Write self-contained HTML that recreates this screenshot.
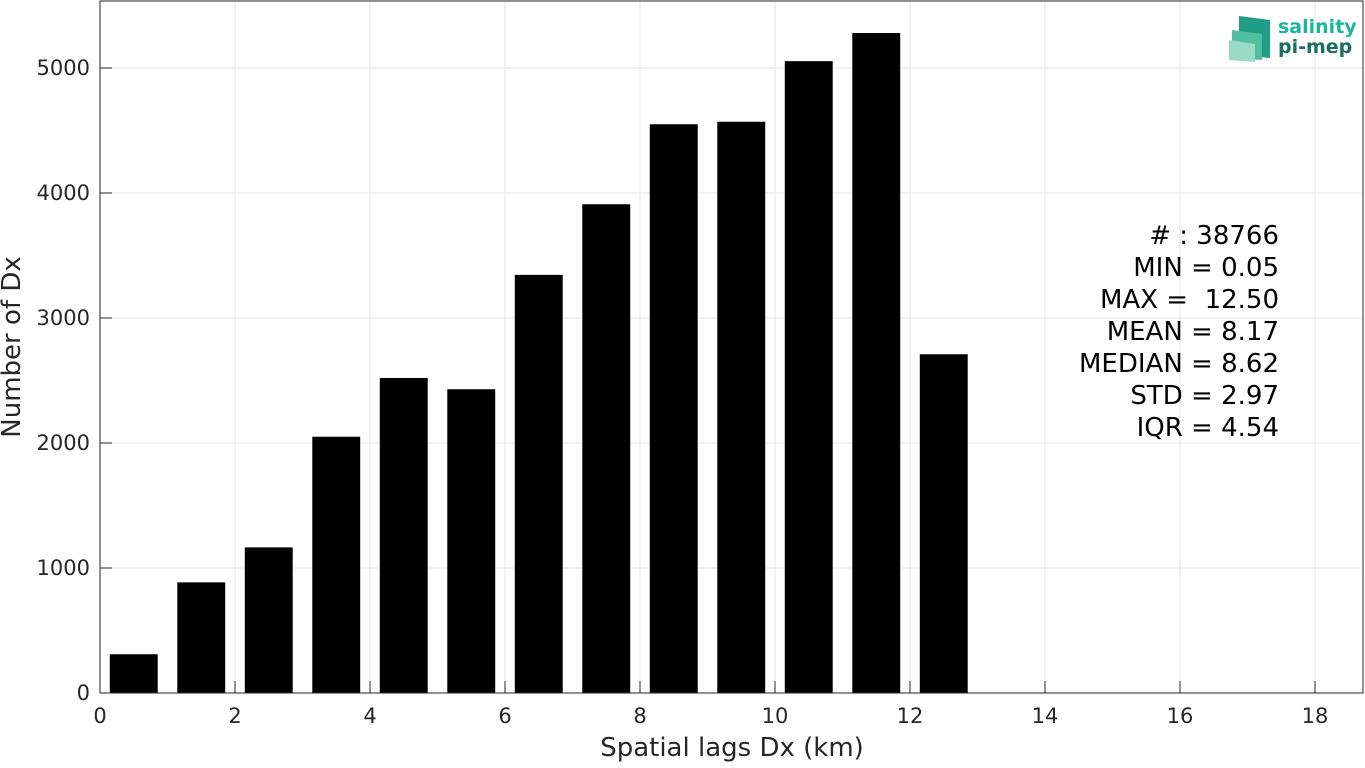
<!DOCTYPE html>
<html><head><meta charset="utf-8"><style>
body{margin:0;background:#fff;}
svg text{font-family:"DejaVu Sans","Liberation Sans",sans-serif;}
</style></head><body>
<svg id="chart" width="1365" height="763" xmlns="http://www.w3.org/2000/svg">
<rect width="1365" height="763" fill="#fff"/>
<g id="grid"></g>
<g id="bars"></g>
<rect x="100" y="1" width="1263" height="692" fill="none" stroke="#262626" stroke-width="1"/>
<g id="ticks"></g>
<text x="732" y="756" font-size="26" fill="#262626" text-anchor="middle">Spatial lags Dx (km)</text>
<text transform="translate(20,347) rotate(-90)" font-size="26" fill="#262626" text-anchor="middle">Number of Dx</text>
<g font-size="26" fill="#000" text-anchor="end">
<text x="1279" y="244"># : 38766</text>
<text x="1279" y="276">MIN = 0.05</text>
<text x="1279" y="308">MAX =&#160; 12.50</text>
<text x="1279" y="340">MEAN = 8.17</text>
<text x="1279" y="372">MEDIAN = 8.62</text>
<text x="1279" y="404">STD = 2.97</text>
<text x="1279" y="436">IQR = 4.54</text>
</g>
<g>
<polygon points="1239,16 1270,20 1270,58 1239,55" fill="#1f9d86"/>
<polygon points="1232,30 1262,34 1262,60 1232,58" fill="#4fbf9f"/>
<polygon points="1229,40 1255,44 1255,62 1229,60" fill="#9adbc6"/>
<text x="1278" y="33" font-size="19" font-weight="bold" fill="#1bb59a">salinity</text>
<text x="1278" y="53" font-size="19" font-weight="bold" fill="#1a6f63">pi-mep</text>
</g>
</svg>
<script>
const binCenters=[0.5,1.5,2.5,3.5,4.5,5.5,6.5,7.5,8.5,9.5,10.5,11.5,12.5];
const counts=[310,885,1165,2050,2520,2430,3345,3910,4550,4570,5055,5280,2710];
const xTicks=[0,2,4,6,8,10,12,14,16,18];
const yTicks=[0,1000,2000,3000,4000,5000];
const NS='http://www.w3.org/2000/svg';
const x=v=>100+v*67.5;
const y=v=>693-v*0.125;
const barW=0.71;
const grid=document.getElementById('grid'),bars=document.getElementById('bars'),ticks=document.getElementById('ticks');
function mk(tag,attrs,parent){const e=document.createElementNS(NS,tag);for(const k in attrs)e.setAttribute(k,attrs[k]);parent.appendChild(e);return e;}
xTicks.forEach(t=>{
  const g=mk('line',{x1:x(t),x2:x(t),y1:1,y2:693,stroke:'#e6e6e6'},grid);
  
  
  const tk=mk('line',{x1:x(t),x2:x(t),y1:693,y2:681,stroke:'#262626'},ticks);
  
  
  const l=mk('text',{x:x(t),y:723,'font-size':21,fill:'#262626','text-anchor':'middle'},ticks);
  l.textContent=t;
  
  
});
yTicks.forEach(t=>{
  const g=mk('line',{x1:100,x2:1363,y1:y(t),y2:y(t),stroke:'#e6e6e6'},grid);
  
  
  const tk=mk('line',{x1:100,x2:112,y1:y(t),y2:y(t),stroke:'#262626'},ticks);
  
  
  const l=mk('text',{x:90,y:y(t)+7,'font-size':21,fill:'#262626','text-anchor':'end'},ticks);
  l.textContent=t;
  
  
});
binCenters.forEach((c,i)=>{
  const b=mk('rect',{x:x(c-barW/2),y:y(counts[i]),width:x(barW)-x(0),height:y(0)-y(counts[i]),fill:'#000'},bars);
  
  
});
</script>
</body></html>
